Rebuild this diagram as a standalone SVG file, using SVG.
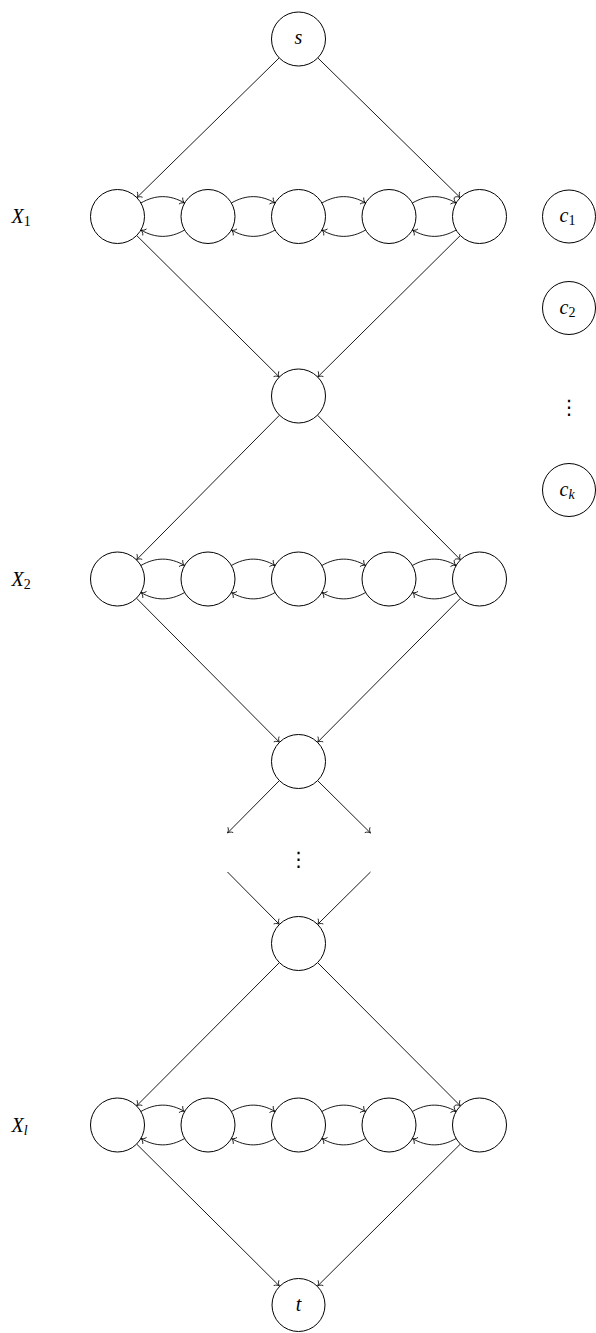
<svg xmlns="http://www.w3.org/2000/svg" width="596" height="1333" viewBox="0 0 596 1333">
<style>
.n{fill:#fff;stroke:#000;stroke-width:1}
.e{fill:none;stroke:#000;stroke-width:0.9;marker-end:url(#to)}
.l{font-family:"Liberation Serif",serif;font-style:italic;font-size:20px;fill:#000}
.sub{font-family:"Liberation Serif",serif;font-style:normal;font-size:14px}
.subi{font-family:"Liberation Serif",serif;font-style:italic;font-size:14px}
.d{font-family:"DejaVu Sans",sans-serif;font-size:20px;fill:#000;text-anchor:middle}
</style>
<defs>
<marker id="to" markerUnits="userSpaceOnUse" markerWidth="10" markerHeight="10" viewBox="-6 -5 8 10" refX="0" refY="0" orient="auto" overflow="visible">
<path d="M -4.2 -3.4 C -3.4 -1.3 -1.1 -0.3 0 0 C -1.1 0.3 -3.4 1.3 -4.2 3.4" fill="none" stroke="#000" stroke-width="0.8" stroke-linecap="round"/>
</marker>
</defs>
<rect width="596" height="1333" fill="#fff"/>
<g transform="translate(0.5,0)">
<g id="connectors">
<path class="e" d="M278.7 57.9 L136.3 197.6"/>
<path class="e" d="M317.3 57.9 L459.7 197.6"/>
<path class="e" d="M136.2 235.5 L278.8 377"/>
<path class="e" d="M459.8 235.5 L317.2 377"/>
<path class="e" d="M279 415.2 L136 559.8"/>
<path class="e" d="M317 415.2 L460 559.8"/>
<path class="e" d="M136 598.2 L279 742.3"/>
<path class="e" d="M460 598.2 L317 742.3"/>
<path class="e" d="M278.9 780.6 L227 833"/>
<path class="e" d="M317.1 780.6 L370 833"/>
<path class="e" d="M227 872 L278.9 924.4"/>
<path class="e" d="M370 872 L317.1 924.4"/>
<path class="e" d="M278.9 962.6 L136.1 1105.9"/>
<path class="e" d="M317.1 962.6 L459.9 1105.9"/>
<path class="e" d="M136.1 1144 L278.9 1286"/>
<path class="e" d="M459.9 1144 L317.1 1286"/>
<g id="arcs1">
<path class="e" d="M140.4 203 C155.1 194.5 169.4 194.5 184.1 203"/>
<path class="e" d="M184.1 230 C169.4 238.5 155.1 238.5 140.4 230"/>
<path class="e" d="M230.9 203 C245.6 194.5 259.9 194.5 274.6 203"/>
<path class="e" d="M274.6 230 C259.9 238.5 245.6 238.5 230.9 230"/>
<path class="e" d="M321.4 203 C336.1 194.5 350.4 194.5 365.1 203"/>
<path class="e" d="M365.1 230 C350.4 238.5 336.1 238.5 321.4 230"/>
<path class="e" d="M411.9 203 C426.6 194.5 440.9 194.5 455.6 203"/>
<path class="e" d="M455.6 230 C440.9 238.5 426.6 238.5 411.9 230"/>
</g>
<g id="arcs2" transform="translate(0,362.5)">
<path class="e" d="M140.4 203 C155.1 194.5 169.4 194.5 184.1 203"/>
<path class="e" d="M184.1 230 C169.4 238.5 155.1 238.5 140.4 230"/>
<path class="e" d="M230.9 203 C245.6 194.5 259.9 194.5 274.6 203"/>
<path class="e" d="M274.6 230 C259.9 238.5 245.6 238.5 230.9 230"/>
<path class="e" d="M321.4 203 C336.1 194.5 350.4 194.5 365.1 203"/>
<path class="e" d="M365.1 230 C350.4 238.5 336.1 238.5 321.4 230"/>
<path class="e" d="M411.9 203 C426.6 194.5 440.9 194.5 455.6 203"/>
<path class="e" d="M455.6 230 C440.9 238.5 426.6 238.5 411.9 230"/>
</g>
<g id="arcs3" transform="translate(0,908.5)">
<path class="e" d="M140.4 203 C155.1 194.5 169.4 194.5 184.1 203"/>
<path class="e" d="M184.1 230 C169.4 238.5 155.1 238.5 140.4 230"/>
<path class="e" d="M230.9 203 C245.6 194.5 259.9 194.5 274.6 203"/>
<path class="e" d="M274.6 230 C259.9 238.5 245.6 238.5 230.9 230"/>
<path class="e" d="M321.4 203 C336.1 194.5 350.4 194.5 365.1 203"/>
<path class="e" d="M365.1 230 C350.4 238.5 336.1 238.5 321.4 230"/>
<path class="e" d="M411.9 203 C426.6 194.5 440.9 194.5 455.6 203"/>
<path class="e" d="M455.6 230 C440.9 238.5 426.6 238.5 411.9 230"/>
</g>
</g>
<g id="s"><circle class="n" cx="298" cy="39" r="27"/><text class="l" x="298" y="44" text-anchor="middle">s</text></g>
<g id="x1-1"><circle class="n" cx="117" cy="216.5" r="27"/></g>
<g id="x1-2"><circle class="n" cx="207.5" cy="216.5" r="27"/></g>
<g id="x1-3"><circle class="n" cx="298" cy="216.5" r="27"/></g>
<g id="x1-4"><circle class="n" cx="388.5" cy="216.5" r="27"/></g>
<g id="x1-5"><circle class="n" cx="479" cy="216.5" r="27"/></g>
<g id="m1"><circle class="n" cx="298" cy="396" r="27"/></g>
<g id="x2-1"><circle class="n" cx="117" cy="579" r="27"/></g>
<g id="x2-2"><circle class="n" cx="207.5" cy="579" r="27"/></g>
<g id="x2-3"><circle class="n" cx="298" cy="579" r="27"/></g>
<g id="x2-4"><circle class="n" cx="388.5" cy="579" r="27"/></g>
<g id="x2-5"><circle class="n" cx="479" cy="579" r="27"/></g>
<g id="m2"><circle class="n" cx="298" cy="761.5" r="27"/></g>
<g id="vdots-main"><text class="d" x="298" y="866">⋮</text></g>
<g id="m3"><circle class="n" cx="298" cy="943.5" r="27"/></g>
<g id="xl-1"><circle class="n" cx="117" cy="1125" r="27"/></g>
<g id="xl-2"><circle class="n" cx="207.5" cy="1125" r="27"/></g>
<g id="xl-3"><circle class="n" cx="298" cy="1125" r="27"/></g>
<g id="xl-4"><circle class="n" cx="388.5" cy="1125" r="27"/></g>
<g id="xl-5"><circle class="n" cx="479" cy="1125" r="27"/></g>
<g id="t"><circle class="n" cx="298" cy="1305" r="26.5"/><text class="l" x="298" y="1311" text-anchor="middle">t</text></g>
<g id="label-x1"><text class="l" x="11" y="223">X<tspan class="sub" dy="3">1</tspan></text></g>
<g id="label-x2"><text class="l" x="11" y="586">X<tspan class="sub" dy="3">2</tspan></text></g>
<g id="label-xl"><text class="l" x="11" y="1132">X<tspan class="subi" dy="3">l</tspan></text></g>
<g id="c1"><circle class="n" cx="568.5" cy="216.5" r="26.5"/><text class="l" x="559" y="222">c<tspan class="sub" dy="3">1</tspan></text></g>
<g id="c2"><circle class="n" cx="568.5" cy="308" r="26.5"/><text class="l" x="559" y="313.5">c<tspan class="sub" dy="3">2</tspan></text></g>
<g id="vdots-c"><text class="d" x="568.5" y="414">⋮</text></g>
<g id="ck"><circle class="n" cx="568.5" cy="490" r="26.5"/><text class="l" x="559" y="495.5">c<tspan class="subi" dy="3">k</tspan></text></g>
</g>
</svg>
